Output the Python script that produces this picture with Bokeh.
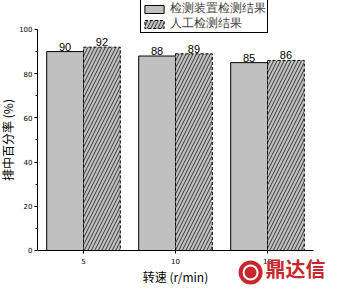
from bokeh.plotting import figure
from bokeh.models import ColumnDataSource, Legend, LegendItem, FixedTicker, Label, Range1d
from bokeh.core.properties import value
from bokeh.embed import file_html
from bokeh.resources import INLINE

speeds = [5, 10, 15]
device = [90, 88, 85]
manual = [92, 89, 86]
series_names = ["检测装置检测结果", "人工检测结果"]
y_ticks = [0, 20, 40, 60, 80, 100]
y_minor = [10, 30, 50, 70, 90]

CJK = "Noto Sans CJK SC"

p = figure(width=339, height=294, output_backend="svg", toolbar_location=None,
           x_range=Range1d(0.489, 18.913), y_range=Range1d(-19.91, 113.12),
           min_border_left=0, min_border_right=0, min_border_top=0, min_border_bottom=0)
p.grid.visible = False
p.outline_line_color = None
p.background_fill_color = "white"

src_d = ColumnDataSource(dict(x=[s - 1 for s in speeds], top=device, lab=[str(v) for v in device]))
src_m = ColumnDataSource(dict(x=[s + 1 for s in speeds], top=manual, lab=[str(v) for v in manual]))

r1 = p.vbar(x="x", top="top", width=2, bottom=0, source=src_d,
            fill_color="#c0c0c0", line_color="black", line_width=1)
r2 = p.vbar(x="x", top="top", width=2, bottom=0, source=src_m,
            fill_color="#c0c0c0", line_color="black", line_width=1, line_dash="3 2",
            hatch_pattern="/", hatch_color="black", hatch_weight=0.7, hatch_scale=7)

for src in (src_d, src_m):
    p.text(x="x", y="top", text="lab", source=src, text_align="center", text_baseline="bottom",
           y_offset=-1, text_font=value("Liberation Sans"), text_font_size="11px", text_color="black")

p.xaxis.fixed_location = 0
p.yaxis.fixed_location = 2.5
p.xaxis.bounds = (2.5, 17.5)
p.yaxis.bounds = (0, 100)
p.xaxis.ticker = FixedTicker(ticks=speeds)
p.yaxis.ticker = FixedTicker(ticks=y_ticks, minor_ticks=y_minor)
for ax in (p.xaxis, p.yaxis):
    ax.axis_line_color = "black"
    ax.major_tick_line_color = "black"
    ax.minor_tick_line_color = "black"
    ax.major_tick_in = 0
    ax.major_tick_out = 3
    ax.minor_tick_in = 0
    ax.minor_tick_out = 2
    ax.major_label_text_font = "DejaVu Sans"
    ax.major_label_text_font_size = "7px"
    ax.major_label_text_color = "black"
    ax.major_label_standoff = 2
p.xaxis.minor_tick_line_color = None
p.xaxis.major_label_standoff = 5

p.xaxis.axis_label = "转速 (r/min)"
p.yaxis.axis_label = "排中百分率 (%)"
for ax in (p.xaxis, p.yaxis):
    ax.axis_label_text_font = CJK
    ax.axis_label_text_font_size = "12px"
    ax.axis_label_text_font_style = "normal"
    ax.axis_label_text_color = "black"
p.yaxis.axis_label_standoff = 0
p.xaxis.axis_label_standoff = 0

legend = Legend(items=[LegendItem(label=series_names[0], renderers=[r1]),
                       LegendItem(label=series_names[1], renderers=[r2])],
                location=(140, 261), orientation="vertical",
                label_text_font="DejaVu Sans", label_text_font_size="11.5px",
                glyph_width=24, glyph_height=10, label_height=10, spacing=0, padding=1, margin=0,
                label_standoff=4, border_line_color="black", border_line_width=1,
                border_line_alpha=1.0, background_fill_alpha=1.0)
p.add_layout(legend, "center")

p.scatter(x=[14.08], y=[-9.95], size=24, marker="circle", fill_color="#c8282d", line_color=None)
p.scatter(x=[14.08], y=[-9.95], size=14, marker="circle", fill_color=None, line_color="white", line_width=2)
wm = Label(x=14.89, y=-14.9, text="鼎达信", text_baseline="bottom", text_align="left",
           text_font=CJK, text_font_size="20px", text_font_style="bold", text_color="#c8282d")
p.add_layout(wm)

open("out.html", "w").write(file_html(p, INLINE))
